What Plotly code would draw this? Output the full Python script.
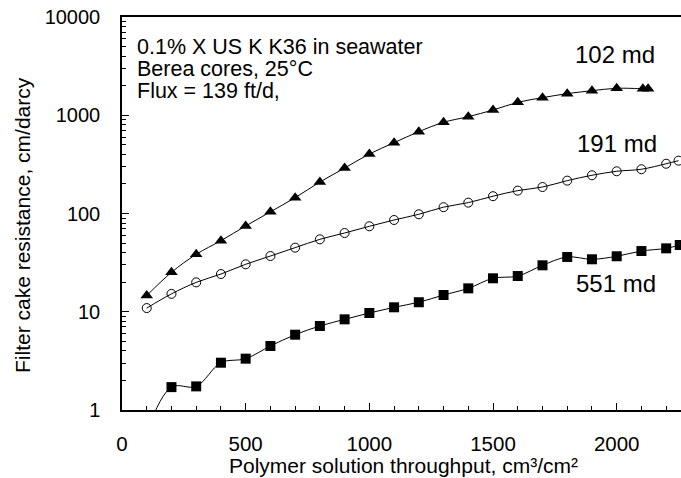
import plotly.graph_objects as go

# Data
x_102 = [100, 200, 300, 400, 500, 600, 700, 800, 900, 1000, 1100, 1200, 1300, 1400,
         1500, 1600, 1700, 1800, 1900, 2000, 2106, 2127]
y_102 = [14.6, 25.2, 38.4, 52.9, 74.6, 104, 145, 209, 290, 403, 526, 680, 848, 967,
         1131, 1353, 1510, 1659, 1778, 1880, 1864, 1864]

x_191 = [100, 200, 300, 400, 500, 600, 700, 800, 900, 1000, 1100, 1200, 1300, 1400,
         1500, 1600, 1700, 1800, 1900, 2000, 2100, 2200, 2250]
y_191 = [10.9, 15.2, 19.9, 24.2, 30.4, 36.9, 44.9, 54.6, 63.3, 74.1, 85.9, 98.2, 116, 129,
         150, 171, 186, 216, 245, 269, 282, 321, 345]

x_551 = [100, 200, 300, 400, 500, 600, 700, 800, 900, 1000, 1100, 1200, 1300, 1400,
         1500, 1600, 1700, 1800, 1900, 2000, 2100, 2200, 2255]
y_551 = [0.6, 1.71, 1.74, 3.03, 3.33, 4.48, 5.84, 7.16, 8.37, 9.71, 11.1, 12.5, 14.8, 17.3,
         21.9, 23.1, 29.7, 36.1, 34.2, 36.7, 41.5, 44.2, 47.8]

x_ticks = [0, 500, 1000, 1500, 2000]
y_ticks = [1, 10, 100, 1000, 10000]
y_tick_text = ["1", "10", "100", "1000", "10000"]

series_labels = ["102 md", "191 md", "551 md"]
note_lines = ["0.1% X US K K36 in seawater", "Berea cores, 25°C", "Flux = 139 ft/d,"]
x_title = "Polymer solution throughput, cm³/cm²"
y_title = "Filter cake resistance, cm/darcy"

FONT = "Liberation Sans, Arial, sans-serif"

# plot area in pixels
W, H = 681, 478
L, R, T, B = 122, 0, 17, 68
PW, PH = W - L - R, H - T - B


def px(xp):
    return (xp - L) / PW


def py(yp):
    return (H - B - yp) / PH


fig = go.Figure()
fig.add_trace(go.Scatter(x=x_102, y=y_102, mode="lines+markers",
                         line=dict(color="black", width=1, shape="spline"),
                         marker=dict(symbol="triangle-up", size=11, color="black"),
                         showlegend=False))
fig.add_trace(go.Scatter(x=x_191, y=y_191, mode="lines+markers",
                         line=dict(color="black", width=1, shape="spline"),
                         marker=dict(symbol="circle-open", size=9, color="black",
                                     line=dict(width=1)),
                         showlegend=False))
fig.add_trace(go.Scatter(x=x_551, y=y_551, mode="lines+markers",
                         line=dict(color="black", width=1, shape="spline"),
                         marker=dict(symbol="square", size=10, color="black"),
                         showlegend=False))

label_px = [(615, 55), (617, 143), (616, 283)]
for t, (lx, ly) in zip(series_labels, label_px):
    fig.add_annotation(x=px(lx), y=py(ly), xref="paper", yref="paper", text=t,
                       showarrow=False, font=dict(size=24, color="black", family=FONT),
                       xanchor="center", yanchor="middle")

note_py = [47, 69, 91]
for t, ly in zip(note_lines, note_py):
    fig.add_annotation(x=px(135), y=py(ly), xref="paper", yref="paper", text=t,
                       showarrow=False, align="left", xanchor="left", yanchor="middle",
                       font=dict(size=21.5, color="black", family=FONT))

fig.add_annotation(x=px(403), y=py(478), xref="paper", yref="paper", text=x_title,
                   showarrow=False, xanchor="center", yanchor="bottom", borderpad=0,
                   font=dict(size=21, color="black", family=FONT))
fig.add_annotation(x=px(22), y=py(225), xref="paper", yref="paper", text=y_title,
                   showarrow=False, xanchor="center", yanchor="middle", textangle=-90,
                   font=dict(size=21, color="black", family=FONT))

minor_y = [m * 10 ** d for d in range(0, 4) for m in range(2, 10)]

fig.update_layout(
    width=W, height=H,
    margin=dict(l=L, r=R, t=T, b=B, autoexpand=False),
    paper_bgcolor="white", plot_bgcolor="white",
    font=dict(family=FONT, size=20, color="black"),
    xaxis=dict(range=[0, 2260], tickvals=x_ticks, ticks="inside", ticklen=7,
               tickcolor="black", showline=True, linecolor="black", linewidth=1.5,
               mirror=True, showgrid=False, zeroline=False, automargin=False,
               minor=dict(dtick=100, ticks="inside", ticklen=4, tickcolor="black"),
               ticklabelstandoff=15, tickfont=dict(size=20.5)),
    yaxis=dict(type="log", range=[0, 4], tickvals=y_ticks, ticktext=y_tick_text,
               ticks="inside", ticklen=7, tickcolor="black", showline=True,
               linecolor="black", linewidth=1.5, mirror=False, showgrid=False,
               zeroline=False, automargin=False,
               minor=dict(tickvals=minor_y, ticks="inside", ticklen=4, tickcolor="black"),
               ticklabelstandoff=16, tickfont=dict(size=20)),
)

fig.write_html("out.html", config={"displayModeBar": False},
               post_script="document.body.style.margin='0';document.body.style.overflow='hidden';")
